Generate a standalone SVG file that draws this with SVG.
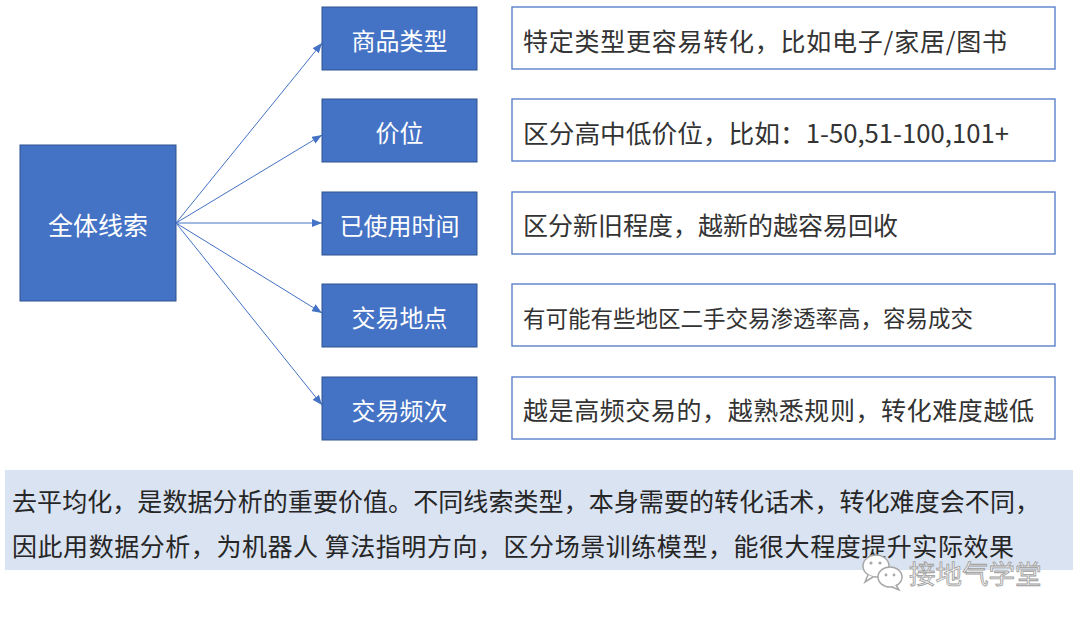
<svg xmlns="http://www.w3.org/2000/svg" width="1080" height="621" viewBox="0 0 1080 621">
<defs>
<style>
.cjk{font-family:"Noto Sans CJK SC","Noto Sans",sans-serif}
.blue rect{fill:#4472c4;stroke:#2f528f;stroke-width:1}
.blue text{fill:#ffffff;font-size:24px;text-anchor:middle;dominant-baseline:central}
.desc rect{fill:#ffffff;stroke:#5b80c8;stroke-width:1.4}
.desc text{fill:#333333;font-size:25px;dominant-baseline:central}
.conn line{stroke:#4472c4;stroke-width:1;fill:none}
.note text{fill:#262626;font-size:25px}
</style>
<marker id="arr" viewBox="0 0 10 8" refX="10" refY="4" markerWidth="10" markerHeight="8" markerUnits="userSpaceOnUse" orient="auto">
<path d="M0,0 L10,4 L0,8 z" fill="#4472c4"/>
</marker>
</defs>
<rect width="1080" height="621" fill="#ffffff"/>

<g id="root" class="blue cjk">
<rect x="20" y="145" width="156" height="156"/>
<text x="98" y="224" style="font-size:25px">全体线索</text>
</g>

<g id="connectors" class="conn">
<line x1="176" y1="223" x2="322" y2="43" marker-end="url(#arr)"/>
<line x1="176" y1="223" x2="322" y2="135" marker-end="url(#arr)"/>
<line x1="176" y1="223" x2="322" y2="223" marker-end="url(#arr)"/>
<line x1="176" y1="223" x2="322" y2="313" marker-end="url(#arr)"/>
<line x1="176" y1="223" x2="322" y2="405" marker-end="url(#arr)"/>
</g>

<g id="n1" class="blue cjk"><rect x="322" y="7" width="155" height="63"/><text x="399.5" y="39.5">商品类型</text></g>
<g id="n2" class="blue cjk"><rect x="322" y="99" width="155" height="63"/><text x="399.5" y="131.5">价位</text></g>
<g id="n3" class="blue cjk"><rect x="322" y="192" width="155" height="63"/><text x="399.5" y="224.5">已使用时间</text></g>
<g id="n4" class="blue cjk"><rect x="322" y="284" width="155" height="63"/><text x="399.5" y="316.5">交易地点</text></g>
<g id="n5" class="blue cjk"><rect x="322" y="377" width="155" height="63"/><text x="399.5" y="409.5">交易频次</text></g>

<g id="d1" class="desc cjk"><rect x="512" y="7" width="543" height="62"/><text x="523" y="40" textLength="484" lengthAdjust="spacing">特定类型更容易转化，比如电子/家居/图书</text></g>
<g id="d2" class="desc cjk"><rect x="512" y="99" width="543" height="62"/><text x="523" y="132" textLength="486" lengthAdjust="spacingAndGlyphs">区分高中低价位，比如：1-50,51-100,101+</text></g>
<g id="d3" class="desc cjk"><rect x="512" y="192" width="543" height="62"/><text x="523" y="224">区分新旧程度，越新的越容易回收</text></g>
<g id="d4" class="desc cjk"><rect x="512" y="284" width="543" height="62"/><text x="523" y="317" style="font-size:22.5px">有可能有些地区二手交易渗透率高，容易成交</text></g>
<g id="d5" class="desc cjk"><rect x="512" y="377" width="543" height="62"/><text x="523" y="409" textLength="511">越是高频交易的，越熟悉规则，转化难度越低</text></g>

<g id="note" class="note cjk">
<rect x="5" y="470" width="1068" height="100" fill="#dae3f1"/>
<text x="12" y="511" textLength="1028" lengthAdjust="spacing">去平均化，是数据分析的重要价值。不同线索类型，本身需要的转化话术，转化难度会不同，</text>
<text x="12" y="556" textLength="1002" lengthAdjust="spacing">因此用数据分析，为机器人 算法指明方向，区分场景训练模型，能很大程度提升实际效果</text>
</g>

<g id="watermark">
<ellipse cx="876" cy="566" rx="13" ry="11" fill="#ffffff" stroke="#a8a8a8" stroke-width="1.5"/>
<path d="M868,575 L865,582 L873,577" fill="#ffffff" stroke="#a8a8a8" stroke-width="1.5"/>
<ellipse cx="890" cy="577" rx="12" ry="10" fill="#ffffff" stroke="#a8a8a8" stroke-width="1.5"/>
<path d="M896,585 L899,590 L892,587" fill="#ffffff" stroke="#a8a8a8" stroke-width="1.5"/>
<circle cx="871" cy="563" r="1.6" fill="#a8a8a8"/><circle cx="880" cy="563" r="1.6" fill="#a8a8a8"/>
<circle cx="886" cy="575" r="1.4" fill="#a8a8a8"/><circle cx="894" cy="575" r="1.4" fill="#a8a8a8"/>
<text x="909" y="584" class="cjk" style="font-size:26.5px" fill="#f2f2f2" stroke="#9c9c9c" stroke-width="0.8">接地气学堂</text>
</g>
</svg>
